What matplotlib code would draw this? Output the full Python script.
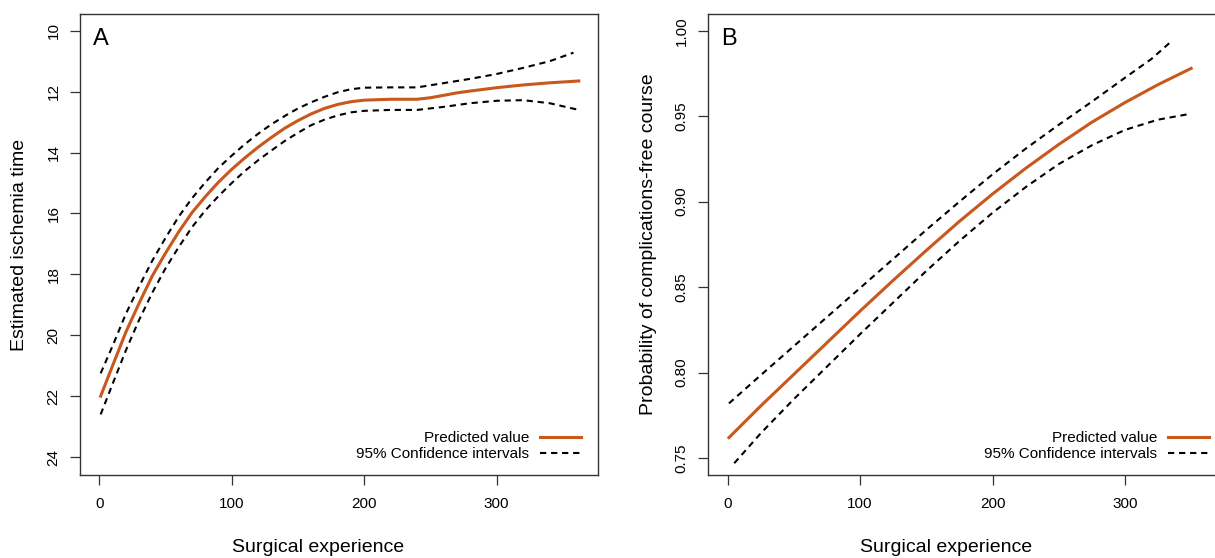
import matplotlib
matplotlib.use("Agg")
import matplotlib.pyplot as plt
from matplotlib.lines import Line2D

plt.rcParams['font.family'] = ['Liberation Sans', 'DejaVu Sans']

# ---------------- Panel A data ----------------
a_x = [1, 10, 20, 30, 40, 50, 60, 70, 80, 90, 100, 110, 120, 130, 140, 150, 160,
       170, 180, 190, 200, 220, 240, 250, 260, 270, 280, 300, 320, 340, 362]
a_pred = [22.0, 21.0, 19.9, 18.95, 18.05, 17.3, 16.6, 15.97, 15.45, 14.97, 14.55,
          14.17, 13.82, 13.5, 13.2, 12.95, 12.73, 12.55, 12.42, 12.33, 12.28, 12.25,
          12.25, 12.2, 12.12, 12.04, 11.98, 11.87, 11.78, 11.71, 11.65]
a_ci_x_up = [1, 10, 20, 30, 40, 50, 60, 70, 80, 90, 100, 110, 120, 130, 140, 150,
             160, 170, 180, 190, 200, 220, 240, 260, 280, 300, 320, 340, 358]
a_upper = [21.25, 20.35, 19.3, 18.4, 17.55, 16.8, 16.1, 15.5, 14.98, 14.5, 14.1,
           13.72, 13.38, 13.07, 12.8, 12.55, 12.35, 12.17, 12.02, 11.92, 11.87,
           11.86, 11.86, 11.72, 11.58, 11.42, 11.22, 11.0, 10.72]
a_ci_x_lo = [1, 10, 20, 30, 40, 50, 60, 70, 80, 90, 100, 110, 120, 130, 140, 150,
             160, 170, 180, 190, 200, 220, 240, 260, 280, 300, 320, 340, 362]
a_lower = [22.6, 21.6, 20.5, 19.5, 18.6, 17.8, 17.1, 16.45, 15.9, 15.43, 15.0,
           14.6, 14.25, 13.93, 13.62, 13.35, 13.1, 12.92, 12.78, 12.68, 12.63,
           12.6, 12.6, 12.5, 12.38, 12.3, 12.28, 12.38, 12.6]
a_yticks = [10, 12, 14, 16, 18, 20, 22, 24]

# ---------------- Panel B data ----------------
b_x = [1, 25, 50, 75, 100, 125, 150, 175, 200, 225, 250, 275, 300, 325, 350]
b_pred = [0.762, 0.7805, 0.799, 0.8175, 0.836, 0.854, 0.8715, 0.8885, 0.9045,
          0.9195, 0.9335, 0.9465, 0.958, 0.9685, 0.978]
b_up_x = [1, 25, 50, 75, 100, 125, 150, 175, 200, 225, 250, 275, 300, 320, 336]
b_upper = [0.782, 0.7985, 0.8155, 0.8325, 0.8495, 0.8665, 0.8835, 0.900, 0.916,
           0.931, 0.945, 0.9585, 0.9725, 0.9835, 0.9945]
b_lo_x = [5, 25, 50, 75, 100, 125, 150, 175, 200, 225, 250, 275, 300, 325, 350]
b_lower = [0.747, 0.7645, 0.7845, 0.8035, 0.8225, 0.841, 0.8595, 0.877, 0.8935,
           0.9085, 0.922, 0.933, 0.942, 0.948, 0.9515]
b_yticks = [0.75, 0.80, 0.85, 0.90, 0.95, 1.00]

x_ticks = [0, 100, 200, 300]
legend_labels = ["Predicted value", "95% Confidence intervals"]

ORANGE = "#c8581c"
DASH = (0, (3, 2.3))

W, H = 1215, 558
fig = plt.figure(figsize=(W / 100, H / 100), dpi=100)

def px_rect(left, top, width, height):
    return [left / W, 1 - (top + height) / H, width / W, height / H]

axA = fig.add_axes(px_rect(80, 14, 518, 461))
axB = fig.add_axes(px_rect(708.3, 14, 518, 461))

def style(ax):
    for s in ax.spines.values():
        s.set_color("#333333")
        s.set_linewidth(1.0)
    ax.tick_params(axis="both", direction="out", length=7, width=0.9,
                   color="#333333", labelsize=11, pad=7)
    ax.tick_params(axis="x", pad=9)
    ax.tick_params(axis="y", labelrotation=90)
    ax.set_xticks(x_ticks)
    ax.set_xlim(-14.6, 376.5)

# Panel A
axA.plot(a_ci_x_up, a_upper, color="black", lw=1.5, linestyle=DASH)
axA.plot(a_ci_x_lo, a_lower, color="black", lw=1.5, linestyle=DASH)
axA.plot(a_x, a_pred, color=ORANGE, lw=2.2)
style(axA)
axA.set_yticks(a_yticks)
axA.set_yticklabels([str(v) for v in a_yticks], va="center")
axA.set_ylim(24.59, 9.45)
axA.set_ylabel("Estimated ischemia time", fontsize=14)
axA.set_xlabel("Surgical experience", fontsize=14)
axA.text(0.025, 0.945, "A", transform=axA.transAxes, fontsize=17, va="center", ha="left")

# Panel B
axB.plot(b_up_x, b_upper, color="black", lw=1.5, linestyle=DASH)
axB.plot(b_lo_x, b_lower, color="black", lw=1.5, linestyle=DASH)
axB.plot(b_x, b_pred, color=ORANGE, lw=2.2)
style(axB)
axB.set_yticks(b_yticks)
axB.set_yticklabels([f"{v:.2f}" for v in b_yticks], va="center")
axB.set_ylim(0.7401, 1.0098)
axB.set_ylabel("Probability of complications-free course", fontsize=14)
axB.set_xlabel("Surgical experience", fontsize=14)
axB.text(0.025, 0.945, "B", transform=axB.transAxes, fontsize=17, va="center", ha="left")

for ax in (axA, axB):
    ax.yaxis.set_label_coords(-0.116, 0.5)
    ax.yaxis.label.set_va("center")
    ax.xaxis.set_label_coords(0.4595, -0.139)
    handles = [Line2D([], [], color=ORANGE, lw=2.2),
               Line2D([], [], color="black", lw=1.5, linestyle=DASH)]
    ax.legend(handles, legend_labels, loc="lower right",
              bbox_to_anchor=(0.967, 0.030), frameon=False, markerfirst=False,
              fontsize=11, handlelength=2.7, handletextpad=0.7,
              labelspacing=0.15, borderpad=0, borderaxespad=0)

fig.savefig("out.png", dpi=100)
